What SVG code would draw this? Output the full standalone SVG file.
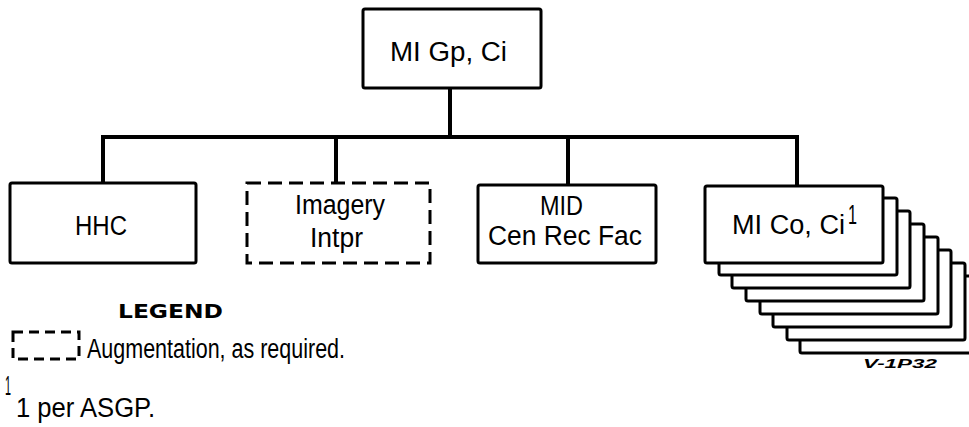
<svg xmlns="http://www.w3.org/2000/svg" width="969" height="427" viewBox="0 0 969 427">
<style>
.box{fill:#fff;stroke:#000;stroke-width:3;stroke-linejoin:round}
.dash{fill:#fff;stroke:#000;stroke-width:3;stroke-dasharray:14 7}
.conn{fill:none;stroke:#000;stroke-width:4;stroke-linecap:square}
.t{font-family:"Liberation Sans",Arial,sans-serif;font-size:27px;fill:#000}
</style>
<rect width="969" height="427" fill="#fff"/>
<g id="connectors">
<line class="conn" x1="450" y1="88" x2="450" y2="137"/>
<line class="conn" x1="103" y1="137" x2="797" y2="137"/>
<line class="conn" x1="103" y1="137" x2="103" y2="183"/>
<line class="conn" x1="336" y1="137" x2="336" y2="183"/>
<line class="conn" x1="568" y1="137" x2="568" y2="185"/>
<line class="conn" x1="797" y1="137" x2="797" y2="186"/>
</g>
<g id="mi-gp">
<rect class="box" x="363" y="9" width="178" height="79" rx="2"/>
<text class="t" x="390" y="61" textLength="117" lengthAdjust="spacingAndGlyphs">MI Gp, Ci</text>
</g>
<g id="hhc">
<rect class="box" x="10" y="183" width="186" height="80" rx="2"/>
<text class="t" x="75" y="235" font-size="29" textLength="52" lengthAdjust="spacingAndGlyphs">HHC</text>
</g>
<g id="imagery">
<rect class="dash" x="247" y="183" width="183" height="80"/>
<text class="t" x="295" y="214" font-size="28" textLength="90" lengthAdjust="spacingAndGlyphs">Imagery</text>
<text class="t" x="310" y="247" textLength="53" lengthAdjust="spacingAndGlyphs">Intpr</text>
</g>
<g id="mid">
<rect class="box" x="478" y="185" width="178" height="78" rx="2"/>
<text class="t" x="540" y="215" textLength="43" lengthAdjust="spacingAndGlyphs">MID</text>
<text class="t" x="488" y="245" textLength="154" lengthAdjust="spacingAndGlyphs">Cen Rec Fac</text>
</g>
<g id="mi-co">
<rect class="box" x="800" y="276" width="178" height="77" rx="2"/>
<rect class="box" x="787" y="263" width="178" height="77" rx="2"/>
<rect class="box" x="773" y="250" width="178" height="77" rx="2"/>
<rect class="box" x="760" y="237" width="178" height="77" rx="2"/>
<rect class="box" x="746" y="224" width="178" height="77" rx="2"/>
<rect class="box" x="732" y="211" width="178" height="77" rx="2"/>
<rect class="box" x="719" y="198" width="178" height="77" rx="2"/>
<rect class="box" x="705" y="186" width="178" height="77" rx="2"/>
<text class="t" x="732" y="234" textLength="113" lengthAdjust="spacingAndGlyphs">MI Co, Ci</text>
<text class="t" x="848" y="224" font-size="19" textLength="9" lengthAdjust="spacingAndGlyphs">1</text>
</g>
<text x="863" y="368" font-family="Liberation Sans,Arial,sans-serif" font-size="12" font-style="italic" font-weight="bold" textLength="74" lengthAdjust="spacingAndGlyphs">V-1P32</text>
<g id="legend">
<text x="118" y="318" font-family="DejaVu Sans,sans-serif" font-size="19" font-weight="bold" textLength="105" lengthAdjust="spacingAndGlyphs">LEGEND</text>
<rect x="13" y="332" width="66" height="27" fill="none" stroke="#000" stroke-width="3" stroke-dasharray="10 6"/>
<text class="t" x="87" y="358" font-size="25" textLength="258" lengthAdjust="spacingAndGlyphs">Augmentation, as required.</text>
<text class="t" x="5" y="395" font-size="18" textLength="6" lengthAdjust="spacingAndGlyphs">1</text>
<text class="t" x="16" y="417" font-size="22" textLength="139" lengthAdjust="spacingAndGlyphs">1 per ASGP.</text>
</g>
</svg>
